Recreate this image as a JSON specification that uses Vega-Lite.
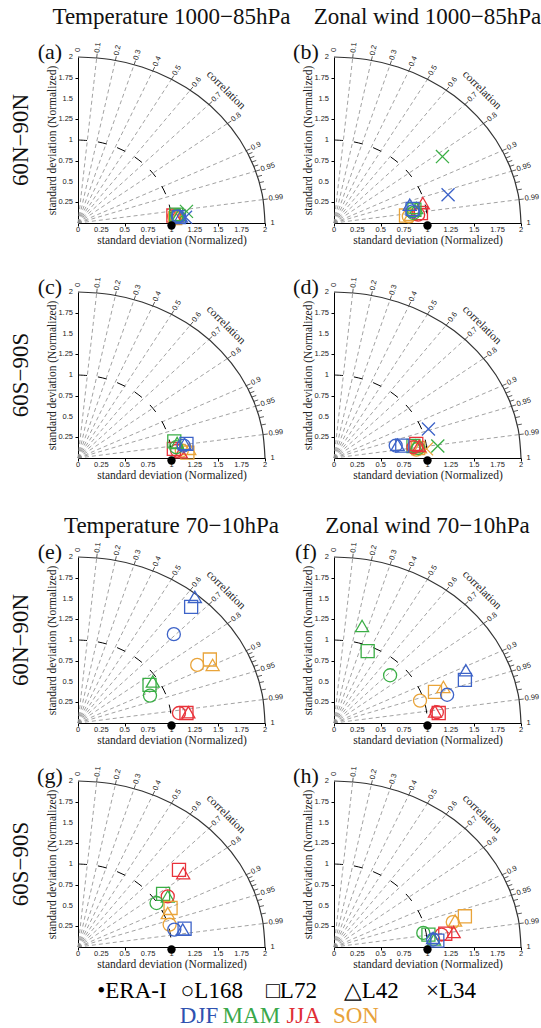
{
  "$schema": "https://vega.github.io/schema/vega-lite/v6.json",
  "padding": {"left": 9, "top": 6, "right": 0, "bottom": 0},
  "background": "white",
  "config": {
    "view": {"stroke": null},
    "axis": {"grid": false, "domainColor": "#000", "tickColor": "#000", "tickSize": 3, "labels": false, "titleFont": "Liberation Serif", "titleFontSize": 11.5, "titleFontWeight": "normal", "titleColor": "#222"}
  },
  "datasets": {
    "panels": [
      {"id": "a", "col": "Temperature 1000−85hPa", "row": "60N−90N", "block": "top", "letter": "(a)"},
      {"id": "b", "col": "Zonal wind 1000−85hPa", "row": "60N−90N", "block": "top", "letter": "(b)"},
      {"id": "c", "col": "Temperature 1000−85hPa", "row": "60S−90S", "block": "top", "letter": "(c)"},
      {"id": "d", "col": "Zonal wind 1000−85hPa", "row": "60S−90S", "block": "top", "letter": "(d)"},
      {"id": "e", "col": "Temperature 70−10hPa", "row": "60N−90N", "block": "bot", "letter": "(e)"},
      {"id": "f", "col": "Zonal wind 70−10hPa", "row": "60N−90N", "block": "bot", "letter": "(f)"},
      {"id": "g", "col": "Temperature 70−10hPa", "row": "60S−90S", "block": "bot", "letter": "(g)"},
      {"id": "h", "col": "Zonal wind 70−10hPa", "row": "60S−90S", "block": "bot", "letter": "(h)"}
    ],
    "leg1": [
      {"item": "•ERA-I"}, {"item": "○L168"}, {"item": "□L72"}, {"item": "△L42"}, {"item": "×L34"}
    ],
    "leg2": [
      {"item": "DJF"}, {"item": "MAM"}, {"item": "JJA"}, {"item": "SON"}
    ],
    "all": [
      {"kind": "ray", "x": 0, "y": 0, "x2": 0.2, "y2": 1.99, "cells": ["a","b","c","d","e","f","g","h"]},
      {"kind": "ray", "x": 0, "y": 0, "x2": 0.4, "y2": 1.9596, "cells": ["a","b","c","d","e","f","g","h"]},
      {"kind": "ray", "x": 0, "y": 0, "x2": 0.6, "y2": 1.9079, "cells": ["a","b","c","d","e","f","g","h"]},
      {"kind": "ray", "x": 0, "y": 0, "x2": 0.8, "y2": 1.833, "cells": ["a","b","c","d","e","f","g","h"]},
      {"kind": "ray", "x": 0, "y": 0, "x2": 1.0, "y2": 1.7321, "cells": ["a","b","c","d","e","f","g","h"]},
      {"kind": "ray", "x": 0, "y": 0, "x2": 1.2, "y2": 1.6, "cells": ["a","b","c","d","e","f","g","h"]},
      {"kind": "ray", "x": 0, "y": 0, "x2": 1.4, "y2": 1.4283, "cells": ["a","b","c","d","e","f","g","h"]},
      {"kind": "ray", "x": 0, "y": 0, "x2": 1.6, "y2": 1.2, "cells": ["a","b","c","d","e","f","g","h"]},
      {"kind": "ray", "x": 0, "y": 0, "x2": 1.8, "y2": 0.8718, "cells": ["a","b","c","d","e","f","g","h"]},
      {"kind": "ray", "x": 0, "y": 0, "x2": 1.9, "y2": 0.6245, "cells": ["a","b","c","d","e","f","g","h"]},
      {"kind": "ray", "x": 0, "y": 0, "x2": 1.98, "y2": 0.2821, "cells": ["a","b","c","d","e","f","g","h"]},
      {"kind": "arc2", "x": 0, "y": 2, "cells": ["a","b","c","d","e","f","g","h"]},
      {"kind": "arc2", "x": 0.3473, "y": 1.9696, "cells": ["a","b","c","d","e","f","g","h"]},
      {"kind": "arc2", "x": 0.684, "y": 1.8794, "cells": ["a","b","c","d","e","f","g","h"]},
      {"kind": "arc2", "x": 1.0, "y": 1.7321, "cells": ["a","b","c","d","e","f","g","h"]},
      {"kind": "arc2", "x": 1.2856, "y": 1.5321, "cells": ["a","b","c","d","e","f","g","h"]},
      {"kind": "arc2", "x": 1.5321, "y": 1.2856, "cells": ["a","b","c","d","e","f","g","h"]},
      {"kind": "arc2", "x": 1.7321, "y": 1.0, "cells": ["a","b","c","d","e","f","g","h"]},
      {"kind": "arc2", "x": 1.8794, "y": 0.684, "cells": ["a","b","c","d","e","f","g","h"]},
      {"kind": "arc2", "x": 1.9696, "y": 0.3473, "cells": ["a","b","c","d","e","f","g","h"]},
      {"kind": "arc2", "x": 2.0, "y": 0, "cells": ["a","b","c","d","e","f","g","h"]},
      {"kind": "arc1", "x": 0, "y": 1, "cells": ["a","b","c","d","e","f","g","h"]},
      {"kind": "arc1", "x": 0.1736, "y": 0.9848, "cells": ["a","b","c","d","e","f","g","h"]},
      {"kind": "arc1", "x": 0.342, "y": 0.9397, "cells": ["a","b","c","d","e","f","g","h"]},
      {"kind": "arc1", "x": 0.5, "y": 0.866, "cells": ["a","b","c","d","e","f","g","h"]},
      {"kind": "arc1", "x": 0.6428, "y": 0.766, "cells": ["a","b","c","d","e","f","g","h"]},
      {"kind": "arc1", "x": 0.766, "y": 0.6428, "cells": ["a","b","c","d","e","f","g","h"]},
      {"kind": "arc1", "x": 0.866, "y": 0.5, "cells": ["a","b","c","d","e","f","g","h"]},
      {"kind": "arc1", "x": 0.9397, "y": 0.342, "cells": ["a","b","c","d","e","f","g","h"]},
      {"kind": "arc1", "x": 0.9848, "y": 0.1736, "cells": ["a","b","c","d","e","f","g","h"]},
      {"kind": "arc1", "x": 1.0, "y": 0, "cells": ["a","b","c","d","e","f","g","h"]},
      {"kind": "tick", "x": 0.2, "y": 1.99, "x2": 0.205, "y2": 2.0397, "cells": ["a","b","c","d","e","f","g","h"]},
      {"kind": "tick", "x": 0.4, "y": 1.9596, "x2": 0.41, "y2": 2.0086, "cells": ["a","b","c","d","e","f","g","h"]},
      {"kind": "tick", "x": 0.6, "y": 1.9079, "x2": 0.615, "y2": 1.9556, "cells": ["a","b","c","d","e","f","g","h"]},
      {"kind": "tick", "x": 0.8, "y": 1.833, "x2": 0.82, "y2": 1.8789, "cells": ["a","b","c","d","e","f","g","h"]},
      {"kind": "tick", "x": 1.0, "y": 1.7321, "x2": 1.025, "y2": 1.7754, "cells": ["a","b","c","d","e","f","g","h"]},
      {"kind": "tick", "x": 1.2, "y": 1.6, "x2": 1.23, "y2": 1.64, "cells": ["a","b","c","d","e","f","g","h"]},
      {"kind": "tick", "x": 1.4, "y": 1.4283, "x2": 1.435, "y2": 1.464, "cells": ["a","b","c","d","e","f","g","h"]},
      {"kind": "tick", "x": 1.6, "y": 1.2, "x2": 1.64, "y2": 1.23, "cells": ["a","b","c","d","e","f","g","h"]},
      {"kind": "tick", "x": 1.8, "y": 0.8718, "x2": 1.845, "y2": 0.8936, "cells": ["a","b","c","d","e","f","g","h"]},
      {"kind": "tick", "x": 1.82, "y": 0.8292, "x2": 1.8655, "y2": 0.85, "cells": ["a","b","c","d","e","f","g","h"]},
      {"kind": "tick", "x": 1.84, "y": 0.7838, "x2": 1.886, "y2": 0.8034, "cells": ["a","b","c","d","e","f","g","h"]},
      {"kind": "tick", "x": 1.86, "y": 0.7351, "x2": 1.9065, "y2": 0.7535, "cells": ["a","b","c","d","e","f","g","h"]},
      {"kind": "tick", "x": 1.88, "y": 0.6823, "x2": 1.927, "y2": 0.6994, "cells": ["a","b","c","d","e","f","g","h"]},
      {"kind": "tick", "x": 1.9, "y": 0.6245, "x2": 1.9475, "y2": 0.6401, "cells": ["a","b","c","d","e","f","g","h"]},
      {"kind": "tick", "x": 1.92, "y": 0.56, "x2": 1.968, "y2": 0.574, "cells": ["a","b","c","d","e","f","g","h"]},
      {"kind": "tick", "x": 1.94, "y": 0.4862, "x2": 1.9885, "y2": 0.4984, "cells": ["a","b","c","d","e","f","g","h"]},
      {"kind": "tick", "x": 1.96, "y": 0.398, "x2": 2.009, "y2": 0.408, "cells": ["a","b","c","d","e","f","g","h"]},
      {"kind": "tick", "x": 1.98, "y": 0.2821, "x2": 2.0295, "y2": 0.2892, "cells": ["a","b","c","d","e","f","g","h"]},
      {"kind": "lab", "x": 0, "y": 2.06, "deg": 90, "t": "0", "cells": ["a","b","c","d","e","f","g","h"]},
      {"kind": "lab", "x": 0.206, "y": 2.0497, "deg": 84.26, "t": "0.1", "cells": ["a","b","c","d","e","f","g","h"]},
      {"kind": "lab", "x": 0.412, "y": 2.0184, "deg": 78.46, "t": "0.2", "cells": ["a","b","c","d","e","f","g","h"]},
      {"kind": "lab", "x": 0.618, "y": 1.9651, "deg": 72.54, "t": "0.3", "cells": ["a","b","c","d","e","f","g","h"]},
      {"kind": "lab", "x": 0.824, "y": 1.888, "deg": 66.42, "t": "0.4", "cells": ["a","b","c","d","e","f","g","h"]},
      {"kind": "lab", "x": 1.03, "y": 1.784, "deg": 60, "t": "0.5", "cells": ["a","b","c","d","e","f","g","h"]},
      {"kind": "lab", "x": 1.236, "y": 1.648, "deg": 53.13, "t": "0.6", "cells": ["a","b","c","d","e","f","g","h"]},
      {"kind": "lab", "x": 1.442, "y": 1.4711, "deg": 45.57, "t": "0.7", "cells": ["a","b","c","d","e","f","g","h"]},
      {"kind": "lab", "x": 1.648, "y": 1.236, "deg": 36.87, "t": "0.8", "cells": ["a","b","c","d","e","f","g","h"]},
      {"kind": "lab", "x": 1.854, "y": 0.8979, "deg": 25.84, "t": "0.9", "cells": ["a","b","c","d","e","f","g","h"]},
      {"kind": "lab", "x": 1.957, "y": 0.6432, "deg": 18.19, "t": "0.95", "cells": ["a","b","c","d","e","f","g","h"]},
      {"kind": "lab", "x": 2.0394, "y": 0.2906, "deg": 8.11, "t": "0.99", "cells": ["a","b","c","d","e","f","g","h"]},
      {"kind": "lab", "x": 2.06, "y": 0, "deg": 0, "t": "1", "cells": ["a","b","c","d","e","f","g","h"]},
      {"kind": "xl", "x": 0, "t": "0", "cells": ["a","b","c","d","e","f","g","h"]},
      {"kind": "xl", "x": 0.25, "t": "0.25", "cells": ["a","b","c","d","e","f","g","h"]},
      {"kind": "xl", "x": 0.5, "t": "0.5", "cells": ["a","b","c","d","e","f","g","h"]},
      {"kind": "xl", "x": 0.75, "t": "0.75", "cells": ["a","b","c","d","e","f","g","h"]},
      {"kind": "xl", "x": 1, "t": "1", "cells": ["a","b","c","d","e","f","g","h"]},
      {"kind": "xl", "x": 1.25, "t": "1.25", "cells": ["a","b","c","d","e","f","g","h"]},
      {"kind": "xl", "x": 1.5, "t": "1.5", "cells": ["a","b","c","d","e","f","g","h"]},
      {"kind": "xl", "x": 1.75, "t": "1.75", "cells": ["a","b","c","d","e","f","g","h"]},
      {"kind": "xl", "x": 2, "t": "2", "cells": ["a","b","c","d","e","f","g","h"]},
      {"kind": "yl", "y": 0.25, "t": "0.25", "cells": ["a","b","c","d","e","f","g","h"]},
      {"kind": "yl", "y": 0.5, "t": "0.5", "cells": ["a","b","c","d","e","f","g","h"]},
      {"kind": "yl", "y": 0.75, "t": "0.75", "cells": ["a","b","c","d","e","f","g","h"]},
      {"kind": "yl", "y": 1, "t": "1", "cells": ["a","b","c","d","e","f","g","h"]},
      {"kind": "yl", "y": 1.25, "t": "1.25", "cells": ["a","b","c","d","e","f","g","h"]},
      {"kind": "yl", "y": 1.5, "t": "1.5", "cells": ["a","b","c","d","e","f","g","h"]},
      {"kind": "yl", "y": 1.75, "t": "1.75", "cells": ["a","b","c","d","e","f","g","h"]},
      {"kind": "yl", "y": 2, "t": "2", "cells": ["a","b","c","d","e","f","g","h"]},
      {"kind": "panel", "cells": ["a","b","c","d","e","f","g","h"]},

      {"kind": "pt", "cells": ["a"], "m": "L72", "s": "JJA", "x": 1.02, "y": 0.09},
      {"kind": "pt", "cells": ["a"], "m": "L168", "s": "JJA", "x": 1.03, "y": 0.08},
      {"kind": "pt", "cells": ["a"], "m": "L42", "s": "JJA", "x": 1.04, "y": 0.07},
      {"kind": "pt", "cells": ["a"], "m": "L72", "s": "SON", "x": 1.04, "y": 0.06},
      {"kind": "pt", "cells": ["a"], "m": "L168", "s": "SON", "x": 1.05, "y": 0.07},
      {"kind": "pt", "cells": ["a"], "m": "L42", "s": "SON", "x": 1.06, "y": 0.08},
      {"kind": "pt", "cells": ["a"], "m": "L72", "s": "MAM", "x": 1.05, "y": 0.1},
      {"kind": "pt", "cells": ["a"], "m": "L168", "s": "MAM", "x": 1.06, "y": 0.09},
      {"kind": "pt", "cells": ["a"], "m": "L42", "s": "MAM", "x": 1.08, "y": 0.1},
      {"kind": "pt", "cells": ["a"], "m": "L72", "s": "DJF", "x": 1.08, "y": 0.07},
      {"kind": "pt", "cells": ["a"], "m": "L168", "s": "DJF", "x": 1.07, "y": 0.08},
      {"kind": "pt", "cells": ["a"], "m": "L42", "s": "DJF", "x": 1.1, "y": 0.08},
      {"kind": "pt", "cells": ["a"], "m": "L34", "s": "MAM", "x": 1.16, "y": 0.14},
      {"kind": "pt", "cells": ["a"], "m": "L34", "s": "DJF", "x": 1.15, "y": 0.07},

      {"kind": "pt", "cells": ["b"], "m": "L34", "s": "MAM", "x": 1.16, "y": 0.8},
      {"kind": "pt", "cells": ["b"], "m": "L34", "s": "DJF", "x": 1.22, "y": 0.34},
      {"kind": "pt", "cells": ["b"], "m": "L72", "s": "SON", "x": 0.77, "y": 0.09},
      {"kind": "pt", "cells": ["b"], "m": "L168", "s": "SON", "x": 0.8, "y": 0.08},
      {"kind": "pt", "cells": ["b"], "m": "L42", "s": "SON", "x": 0.82, "y": 0.1},
      {"kind": "pt", "cells": ["b"], "m": "L72", "s": "JJA", "x": 0.93, "y": 0.12},
      {"kind": "pt", "cells": ["b"], "m": "L168", "s": "JJA", "x": 0.9, "y": 0.1},
      {"kind": "pt", "cells": ["b"], "m": "L42", "s": "JJA", "x": 0.95, "y": 0.24},
      {"kind": "pt", "cells": ["b"], "m": "L72", "s": "MAM", "x": 0.86, "y": 0.16},
      {"kind": "pt", "cells": ["b"], "m": "L168", "s": "MAM", "x": 0.85, "y": 0.12},
      {"kind": "pt", "cells": ["b"], "m": "L42", "s": "MAM", "x": 0.88, "y": 0.18},
      {"kind": "pt", "cells": ["b"], "m": "L168", "s": "DJF", "x": 0.84, "y": 0.14},
      {"kind": "pt", "cells": ["b"], "m": "L42", "s": "DJF", "x": 0.81, "y": 0.22},
      {"kind": "pt", "cells": ["b"], "m": "L72", "s": "DJF", "x": 0.84, "y": 0.17},

      {"kind": "pt", "cells": ["c"], "m": "L72", "s": "SON", "x": 1.17, "y": 0.065},
      {"kind": "pt", "cells": ["c"], "m": "L168", "s": "SON", "x": 1.11, "y": 0.09},
      {"kind": "pt", "cells": ["c"], "m": "L42", "s": "SON", "x": 1.19, "y": 0.11},
      {"kind": "pt", "cells": ["c"], "m": "L72", "s": "JJA", "x": 1.025, "y": 0.11},
      {"kind": "pt", "cells": ["c"], "m": "L168", "s": "JJA", "x": 1.06, "y": 0.09},
      {"kind": "pt", "cells": ["c"], "m": "L42", "s": "JJA", "x": 1.1, "y": 0.07},
      {"kind": "pt", "cells": ["c"], "m": "L72", "s": "MAM", "x": 1.03, "y": 0.2},
      {"kind": "pt", "cells": ["c"], "m": "L168", "s": "MAM", "x": 1.05, "y": 0.13},
      {"kind": "pt", "cells": ["c"], "m": "L42", "s": "MAM", "x": 1.06, "y": 0.18},
      {"kind": "pt", "cells": ["c"], "m": "L72", "s": "DJF", "x": 1.16, "y": 0.17},
      {"kind": "pt", "cells": ["c"], "m": "L168", "s": "DJF", "x": 1.13, "y": 0.15},
      {"kind": "pt", "cells": ["c"], "m": "L42", "s": "DJF", "x": 1.14, "y": 0.17},

      {"kind": "pt", "cells": ["d"], "m": "L168", "s": "SON", "x": 0.88, "y": 0.1},
      {"kind": "pt", "cells": ["d"], "m": "L72", "s": "SON", "x": 0.9, "y": 0.12},
      {"kind": "pt", "cells": ["d"], "m": "L42", "s": "SON", "x": 0.92, "y": 0.13},
      {"kind": "pt", "cells": ["d"], "m": "L34", "s": "SON", "x": 0.99, "y": 0.11},
      {"kind": "pt", "cells": ["d"], "m": "L72", "s": "MAM", "x": 0.85, "y": 0.145},
      {"kind": "pt", "cells": ["d"], "m": "L42", "s": "MAM", "x": 0.875, "y": 0.15},
      {"kind": "pt", "cells": ["d"], "m": "L168", "s": "MAM", "x": 0.9, "y": 0.12},
      {"kind": "pt", "cells": ["d"], "m": "L34", "s": "MAM", "x": 1.11, "y": 0.145},
      {"kind": "pt", "cells": ["d"], "m": "L72", "s": "JJA", "x": 0.88, "y": 0.17},
      {"kind": "pt", "cells": ["d"], "m": "L42", "s": "JJA", "x": 0.91, "y": 0.145},
      {"kind": "pt", "cells": ["d"], "m": "L168", "s": "JJA", "x": 0.85, "y": 0.13},
      {"kind": "pt", "cells": ["d"], "m": "L168", "s": "DJF", "x": 0.66, "y": 0.15},
      {"kind": "pt", "cells": ["d"], "m": "L42", "s": "DJF", "x": 0.68, "y": 0.16},
      {"kind": "pt", "cells": ["d"], "m": "L72", "s": "DJF", "x": 0.73, "y": 0.15},
      {"kind": "pt", "cells": ["d"], "m": "L34", "s": "DJF", "x": 1.01, "y": 0.35},

      {"kind": "pt", "cells": ["e"], "m": "L42", "s": "DJF", "x": 1.25, "y": 1.52},
      {"kind": "pt", "cells": ["e"], "m": "L72", "s": "DJF", "x": 1.21, "y": 1.4},
      {"kind": "pt", "cells": ["e"], "m": "L168", "s": "DJF", "x": 1.025, "y": 1.07},
      {"kind": "pt", "cells": ["e"], "m": "L72", "s": "SON", "x": 1.41, "y": 0.765},
      {"kind": "pt", "cells": ["e"], "m": "L168", "s": "SON", "x": 1.275, "y": 0.7},
      {"kind": "pt", "cells": ["e"], "m": "L42", "s": "SON", "x": 1.44, "y": 0.7},
      {"kind": "pt", "cells": ["e"], "m": "L72", "s": "MAM", "x": 0.765, "y": 0.46},
      {"kind": "pt", "cells": ["e"], "m": "L42", "s": "MAM", "x": 0.8, "y": 0.5},
      {"kind": "pt", "cells": ["e"], "m": "L168", "s": "MAM", "x": 0.77, "y": 0.33},
      {"kind": "pt", "cells": ["e"], "m": "L168", "s": "JJA", "x": 1.08, "y": 0.12},
      {"kind": "pt", "cells": ["e"], "m": "L72", "s": "JJA", "x": 1.16, "y": 0.12},
      {"kind": "pt", "cells": ["e"], "m": "L42", "s": "JJA", "x": 1.18, "y": 0.13},

      {"kind": "pt", "cells": ["f"], "m": "L42", "s": "MAM", "x": 0.3, "y": 1.17},
      {"kind": "pt", "cells": ["f"], "m": "L72", "s": "MAM", "x": 0.36, "y": 0.865},
      {"kind": "pt", "cells": ["f"], "m": "L168", "s": "MAM", "x": 0.6, "y": 0.575},
      {"kind": "pt", "cells": ["f"], "m": "L168", "s": "SON", "x": 0.92, "y": 0.27},
      {"kind": "pt", "cells": ["f"], "m": "L72", "s": "SON", "x": 1.08, "y": 0.375},
      {"kind": "pt", "cells": ["f"], "m": "L42", "s": "SON", "x": 1.17, "y": 0.435},
      {"kind": "pt", "cells": ["f"], "m": "L168", "s": "DJF", "x": 1.21, "y": 0.34},
      {"kind": "pt", "cells": ["f"], "m": "L72", "s": "DJF", "x": 1.4, "y": 0.52},
      {"kind": "pt", "cells": ["f"], "m": "L42", "s": "DJF", "x": 1.41, "y": 0.635},
      {"kind": "pt", "cells": ["f"], "m": "L168", "s": "JJA", "x": 1.1, "y": 0.13},
      {"kind": "pt", "cells": ["f"], "m": "L72", "s": "JJA", "x": 1.12, "y": 0.12},
      {"kind": "pt", "cells": ["f"], "m": "L42", "s": "JJA", "x": 1.08, "y": 0.14},

      {"kind": "pt", "cells": ["g"], "m": "L72", "s": "JJA", "x": 1.08, "y": 0.93},
      {"kind": "pt", "cells": ["g"], "m": "L42", "s": "JJA", "x": 1.125, "y": 0.89},
      {"kind": "pt", "cells": ["g"], "m": "L72", "s": "MAM", "x": 0.91, "y": 0.64},
      {"kind": "pt", "cells": ["g"], "m": "L42", "s": "MAM", "x": 0.96, "y": 0.61},
      {"kind": "pt", "cells": ["g"], "m": "L168", "s": "JJA", "x": 0.96, "y": 0.61},
      {"kind": "pt", "cells": ["g"], "m": "L168", "s": "MAM", "x": 0.84, "y": 0.53},
      {"kind": "pt", "cells": ["g"], "m": "L72", "s": "SON", "x": 0.99, "y": 0.47},
      {"kind": "pt", "cells": ["g"], "m": "L42", "s": "SON", "x": 0.96, "y": 0.41},
      {"kind": "pt", "cells": ["g"], "m": "L168", "s": "SON", "x": 0.98, "y": 0.27},
      {"kind": "pt", "cells": ["g"], "m": "L168", "s": "DJF", "x": 1.03, "y": 0.21},
      {"kind": "pt", "cells": ["g"], "m": "L72", "s": "DJF", "x": 1.14, "y": 0.22},
      {"kind": "pt", "cells": ["g"], "m": "L42", "s": "DJF", "x": 1.12, "y": 0.21},

      {"kind": "pt", "cells": ["h"], "m": "L72", "s": "SON", "x": 1.4, "y": 0.37},
      {"kind": "pt", "cells": ["h"], "m": "L168", "s": "SON", "x": 1.27, "y": 0.3},
      {"kind": "pt", "cells": ["h"], "m": "L42", "s": "SON", "x": 1.295, "y": 0.32},
      {"kind": "pt", "cells": ["h"], "m": "L72", "s": "JJA", "x": 1.19, "y": 0.16},
      {"kind": "pt", "cells": ["h"], "m": "L42", "s": "JJA", "x": 1.28, "y": 0.18},
      {"kind": "pt", "cells": ["h"], "m": "L168", "s": "JJA", "x": 1.15, "y": 0.15},
      {"kind": "pt", "cells": ["h"], "m": "L168", "s": "MAM", "x": 0.955, "y": 0.17},
      {"kind": "pt", "cells": ["h"], "m": "L72", "s": "MAM", "x": 1.01, "y": 0.15},
      {"kind": "pt", "cells": ["h"], "m": "L42", "s": "MAM", "x": 1.07, "y": 0.09},
      {"kind": "pt", "cells": ["h"], "m": "L168", "s": "DJF", "x": 1.06, "y": 0.09},
      {"kind": "pt", "cells": ["h"], "m": "L42", "s": "DJF", "x": 1.06, "y": 0.11},
      {"kind": "pt", "cells": ["h"], "m": "L72", "s": "DJF", "x": 1.105, "y": 0.076}
    ]
  },
  "spacing": 34,
  "vconcat": [
    {
      "data": {"name": "all"},
      "transform": [
        {"flatten": ["cells"], "as": ["cell"]},
        {"lookup": "cell", "from": {"data": {"name": "panels"}, "key": "id", "fields": ["col", "row", "block", "letter"]}},
        {"filter": "datum.block === 'top'"}
      ],
      "facet": {
        "column": {"field": "col", "type": "nominal", "header": {"title": null, "labelFont": "Liberation Serif", "labelFontSize": 23, "labelColor": "#111", "labelPadding": 12}},
        "row": {"field": "row", "type": "nominal", "header": {"title": null, "labelFont": "Liberation Serif", "labelFontSize": 23, "labelColor": "#111", "labelPadding": 4}}
      },
      "spacing": {"column": 9, "row": 30},
      "resolve": {"axis": {"x": "independent", "y": "independent"}},
      "spec": {
        "width": 187,
        "height": 166,
        "layer": [
          {"transform": [{"filter": "datum.kind === 'ray'"}],
           "mark": {"type": "rule", "stroke": "#8a8a8a", "strokeWidth": 0.8, "strokeDash": [4, 3]},
           "encoding": {
             "x": {"field": "x", "type": "quantitative", "scale": {"domain": [0, 2], "nice": false}, "axis": {"values": [0, 0.25, 0.5, 0.75, 1, 1.25, 1.5, 1.75, 2], "labels": false, "title": "standard deviation (Normalized)", "titlePadding": 8}},
             "y": {"field": "y", "type": "quantitative", "scale": {"domain": [0, 2], "nice": false}, "axis": {"values": [0.25, 0.5, 0.75, 1, 1.25, 1.5, 1.75, 2], "labels": false, "title": "standard deviation (Normalized)", "titlePadding": 17}},
             "x2": {"field": "x2"}, "y2": {"field": "y2"}}},
          {"transform": [{"filter": "datum.kind === 'arc2'"}],
           "mark": {"type": "line", "stroke": "#333", "strokeWidth": 1.2, "interpolate": "cardinal"},
           "encoding": {"x": {"field": "x", "type": "quantitative"}, "y": {"field": "y", "type": "quantitative"}}},
          {"transform": [{"filter": "datum.kind === 'arc1'"}],
           "mark": {"type": "line", "stroke": "#000", "strokeWidth": 1, "strokeDash": [9, 11], "interpolate": "cardinal"},
           "encoding": {"x": {"field": "x", "type": "quantitative"}, "y": {"field": "y", "type": "quantitative"}}},
          {"transform": [{"filter": "datum.kind === 'tick'"}],
           "mark": {"type": "rule", "stroke": "#333", "strokeWidth": 0.8},
           "encoding": {"x": {"field": "x", "type": "quantitative"}, "y": {"field": "y", "type": "quantitative"}, "x2": {"field": "x2"}, "y2": {"field": "y2"}}},
          {"transform": [{"filter": "datum.kind === 'lab'"}],
           "mark": {"type": "text", "align": "left", "baseline": "middle", "font": "Liberation Sans", "fontSize": 7.5, "fill": "#222"},
           "encoding": {"x": {"field": "x", "type": "quantitative"}, "y": {"field": "y", "type": "quantitative"}, "text": {"field": "t"},
             "angle": {"field": "deg", "type": "quantitative", "scale": {"domain": [0, 90], "range": [0, -90]}}}},
          {"transform": [{"filter": "datum.kind === 'xl'"}],
           "mark": {"type": "text", "align": "center", "baseline": "top", "dy": 3, "font": "Liberation Sans", "fontSize": 7.5, "fill": "#222"},
           "encoding": {"x": {"field": "x", "type": "quantitative"}, "y": {"datum": 0}, "text": {"field": "t"}}},
          {"transform": [{"filter": "datum.kind === 'yl'"}],
           "mark": {"type": "text", "align": "right", "baseline": "middle", "dx": -5, "font": "Liberation Sans", "fontSize": 7.5, "fill": "#222"},
           "encoding": {"x": {"datum": 0}, "y": {"field": "y", "type": "quantitative"}, "text": {"field": "t"}}},
          {"transform": [{"filter": "datum.kind === 'panel'"}],
           "mark": {"type": "text", "font": "Liberation Serif", "fontSize": 22, "align": "center", "baseline": "middle", "fill": "#111"},
           "encoding": {"x": {"datum": -0.3}, "y": {"datum": 2.06}, "text": {"field": "letter"}}},
          {"transform": [{"filter": "datum.kind === 'panel'"}],
           "mark": {"type": "text", "font": "Liberation Serif", "fontSize": 11.5, "angle": 45, "align": "center", "baseline": "middle", "fill": "#222", "text": "correlation"},
           "encoding": {"x": {"datum": 1.58}, "y": {"datum": 1.6}}},
          {"transform": [{"filter": "datum.kind === 'pt'"}],
           "mark": {"type": "point", "filled": false, "strokeWidth": 1.3, "size": 170, "opacity": 1},
           "encoding": {"x": {"field": "x", "type": "quantitative"}, "y": {"field": "y", "type": "quantitative"},
             "shape": {"field": "m", "type": "nominal", "scale": {"domain": ["L168", "L72", "L42", "L34"], "range": ["circle", "square", "triangle-up", "M-1,-1L1,1M-1,1L1,-1"]}, "legend": null},
             "color": {"field": "s", "type": "nominal", "scale": {"domain": ["DJF", "MAM", "JJA", "SON"], "range": ["#3d63c8", "#3aae45", "#e8323a", "#e9a43a"]}, "legend": null}}},
          {"transform": [{"filter": "datum.kind === 'panel'"}],
           "mark": {"type": "circle", "color": "#000", "size": 70, "opacity": 1},
           "encoding": {"x": {"datum": 1}, "y": {"datum": -0.03}}}
        ]
      }
    },
    {
      "spacing": 8,
      "vconcat": [
        {
          "data": {"name": "all"},
          "transform": [
            {"flatten": ["cells"], "as": ["cell"]},
            {"lookup": "cell", "from": {"data": {"name": "panels"}, "key": "id", "fields": ["col", "row", "block", "letter"]}},
            {"filter": "datum.block === 'bot'"}
          ],
          "facet": {
            "column": {"field": "col", "type": "nominal", "header": {"title": null, "labelFont": "Liberation Serif", "labelFontSize": 23, "labelColor": "#111", "labelPadding": 3}},
            "row": {"field": "row", "type": "nominal", "header": {"title": null, "labelFont": "Liberation Serif", "labelFontSize": 23, "labelColor": "#111", "labelPadding": 4}}
          },
          "spacing": {"column": 9, "row": 19},
          "resolve": {"axis": {"x": "independent", "y": "independent"}},
          "spec": {
            "width": 187,
            "height": 166,
            "layer": [
              {"transform": [{"filter": "datum.kind === 'ray'"}],
               "mark": {"type": "rule", "stroke": "#8a8a8a", "strokeWidth": 0.8, "strokeDash": [4, 3]},
               "encoding": {
                 "x": {"field": "x", "type": "quantitative", "scale": {"domain": [0, 2], "nice": false}, "axis": {"values": [0, 0.25, 0.5, 0.75, 1, 1.25, 1.5, 1.75, 2], "labels": false, "title": "standard deviation (Normalized)", "titlePadding": 8}},
                 "y": {"field": "y", "type": "quantitative", "scale": {"domain": [0, 2], "nice": false}, "axis": {"values": [0.25, 0.5, 0.75, 1, 1.25, 1.5, 1.75, 2], "labels": false, "title": "standard deviation (Normalized)", "titlePadding": 17}},
                 "x2": {"field": "x2"}, "y2": {"field": "y2"}}},
              {"transform": [{"filter": "datum.kind === 'arc2'"}],
               "mark": {"type": "line", "stroke": "#333", "strokeWidth": 1.2, "interpolate": "cardinal"},
               "encoding": {"x": {"field": "x", "type": "quantitative"}, "y": {"field": "y", "type": "quantitative"}}},
              {"transform": [{"filter": "datum.kind === 'arc1'"}],
               "mark": {"type": "line", "stroke": "#000", "strokeWidth": 1, "strokeDash": [9, 11], "interpolate": "cardinal"},
               "encoding": {"x": {"field": "x", "type": "quantitative"}, "y": {"field": "y", "type": "quantitative"}}},
              {"transform": [{"filter": "datum.kind === 'tick'"}],
               "mark": {"type": "rule", "stroke": "#333", "strokeWidth": 0.8},
               "encoding": {"x": {"field": "x", "type": "quantitative"}, "y": {"field": "y", "type": "quantitative"}, "x2": {"field": "x2"}, "y2": {"field": "y2"}}},
              {"transform": [{"filter": "datum.kind === 'lab'"}],
               "mark": {"type": "text", "align": "left", "baseline": "middle", "font": "Liberation Sans", "fontSize": 7.5, "fill": "#222"},
               "encoding": {"x": {"field": "x", "type": "quantitative"}, "y": {"field": "y", "type": "quantitative"}, "text": {"field": "t"},
                 "angle": {"field": "deg", "type": "quantitative", "scale": {"domain": [0, 90], "range": [0, -90]}}}},
              {"transform": [{"filter": "datum.kind === 'xl'"}],
               "mark": {"type": "text", "align": "center", "baseline": "top", "dy": 3, "font": "Liberation Sans", "fontSize": 7.5, "fill": "#222"},
               "encoding": {"x": {"field": "x", "type": "quantitative"}, "y": {"datum": 0}, "text": {"field": "t"}}},
              {"transform": [{"filter": "datum.kind === 'yl'"}],
               "mark": {"type": "text", "align": "right", "baseline": "middle", "dx": -5, "font": "Liberation Sans", "fontSize": 7.5, "fill": "#222"},
               "encoding": {"x": {"datum": 0}, "y": {"field": "y", "type": "quantitative"}, "text": {"field": "t"}}},
              {"transform": [{"filter": "datum.kind === 'panel'"}],
               "mark": {"type": "text", "font": "Liberation Serif", "fontSize": 22, "align": "center", "baseline": "middle", "fill": "#111"},
               "encoding": {"x": {"datum": -0.3}, "y": {"datum": 2.06}, "text": {"field": "letter"}}},
              {"transform": [{"filter": "datum.kind === 'panel'"}],
               "mark": {"type": "text", "font": "Liberation Serif", "fontSize": 11.5, "angle": 45, "align": "center", "baseline": "middle", "fill": "#222", "text": "correlation"},
               "encoding": {"x": {"datum": 1.58}, "y": {"datum": 1.6}}},
              {"transform": [{"filter": "datum.kind === 'pt'"}],
               "mark": {"type": "point", "filled": false, "strokeWidth": 1.3, "size": 170, "opacity": 1},
               "encoding": {"x": {"field": "x", "type": "quantitative"}, "y": {"field": "y", "type": "quantitative"},
                 "shape": {"field": "m", "type": "nominal", "scale": {"domain": ["L168", "L72", "L42", "L34"], "range": ["circle", "square", "triangle-up", "M-1,-1L1,1M-1,1L1,-1"]}, "legend": null},
                 "color": {"field": "s", "type": "nominal", "scale": {"domain": ["DJF", "MAM", "JJA", "SON"], "range": ["#3d63c8", "#3aae45", "#e8323a", "#e9a43a"]}, "legend": null}}},
              {"transform": [{"filter": "datum.kind === 'panel'"}],
               "mark": {"type": "circle", "color": "#000", "size": 70, "opacity": 1},
               "encoding": {"x": {"datum": 1}, "y": {"datum": -0.03}}}
            ]
          }
        },
        {
          "width": 430,
          "height": 50,
          "layer": [
            {"data": {"name": "leg1"},
             "mark": {"type": "text", "font": "Liberation Serif", "fontSize": 23, "fill": "#000", "baseline": "middle"},
             "encoding": {
               "x": {"field": "item", "type": "nominal", "sort": null, "scale": {"type": "point", "padding": 0.696, "align": 0.486}, "axis": null},
               "y": {"datum": "a", "type": "nominal", "scale": {"type": "point", "padding": 0.5, "domain": ["a", "b"]}, "axis": null},
               "text": {"field": "item"}}},
            {"data": {"name": "leg2"},
             "mark": {"type": "text", "font": "Liberation Serif", "fontSize": 23, "baseline": "middle"},
             "encoding": {
               "x": {"field": "item", "type": "nominal", "sort": null, "scale": {"type": "point", "domain": ["_1", "_2", "DJF", "MAM", "JJA", "SON", "_3", "_4"], "padding": 0.61, "align": 0.257}, "axis": null},
               "y": {"datum": "b", "type": "nominal", "scale": {"type": "point", "padding": 0.5, "domain": ["a", "b"]}, "axis": null},
               "text": {"field": "item"},
               "color": {"field": "item", "type": "nominal", "scale": {"domain": ["DJF", "MAM", "JJA", "SON"], "range": ["#2f52b0", "#3aa84a", "#e02f36", "#e8a23a"]}, "legend": null}}}
          ],
          "resolve": {"scale": {"x": "independent", "color": "independent"}}
        }
      ]
    }
  ]
}
